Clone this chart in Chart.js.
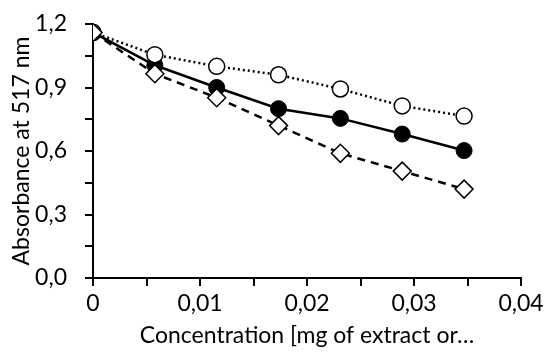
<!DOCTYPE html>
<html>
<head>
<meta charset="utf-8">
<script src="https://cdn.jsdelivr.net/npm/chart.js@4/dist/chart.umd.min.js"></script>
<style>
html,body{margin:0;padding:0;background:#fff;}
#wrap{width:544px;height:354px;position:relative;}
</style>
</head>
<body>
<div id="wrap"><canvas id="c" width="544" height="354"></canvas></div>
<script>
const concentrations = [0, 0.00578, 0.01156, 0.01734, 0.02312, 0.0289, 0.03468];
const openCircles   = [1.16, 1.055, 1.00, 0.96, 0.893, 0.813, 0.765];
const filledCircles = [1.16, 1.005, 0.90, 0.80, 0.754, 0.680, 0.602];
const diamonds      = [1.16, 0.965, 0.852, 0.72, 0.589, 0.505, 0.420];
const xTitle = 'Concentration [mg of extract or…';
const yTitle = 'Absorbance at 517 nm';

const pts = arr => arr.map((v, i) => ({x: concentrations[i], y: v}));
const FONT = 'Lato';

const isMult = (v, s) => Math.abs(v / s - Math.round(v / s)) < 1e-6;

new Chart(document.getElementById('c'), {
  type: 'scatter',
  data: {
    datasets: [
      {
        label: 'open', data: pts(openCircles), showLine: true,
        borderColor: '#000', borderWidth: 2.5, borderDash: [2, 3],
        pointStyle: 'circle', pointRadius: 8, pointBackgroundColor: '#fff',
        pointBorderColor: '#000', pointBorderWidth: 1.5, order: 2
      },
      {
        label: 'filled', data: pts(filledCircles), showLine: true,
        borderColor: '#000', borderWidth: 2.5,
        pointStyle: 'circle', pointRadius: 8, pointBackgroundColor: '#000',
        pointBorderColor: '#000', pointBorderWidth: 1, order: 3
      },
      {
        label: 'diamond', data: pts(diamonds), showLine: true,
        borderColor: '#000', borderWidth: 2.5, borderDash: [8, 6],
        pointStyle: 'rectRot', pointRadius: 9, pointBackgroundColor: '#fff',
        pointBorderColor: '#000', pointBorderWidth: 1.5, order: 1
      }
    ]
  },
  options: {
    responsive: false,
    animation: false,
    layout: {padding: {left: 0, right: 23, top: 24, bottom: 0}},
    plugins: {legend: {display: false}, tooltip: {enabled: false}},
    scales: {
      x: {
        type: 'linear', min: 0, max: 0.04,
        afterFit: s => { s.height = 76; s.paddingRight = 0; s.paddingLeft = 0; },
        ticks: {
          stepSize: 0.005, color: '#000', padding: 4,
          font: {family: FONT, size: 23},
          maxRotation: 0, autoSkip: false,
          callback: v => isMult(v, 0.01) ? (Math.abs(v) < 1e-9 ? '0' : v.toFixed(2).replace('.', ',')) : ''
        },
        grid: {drawOnChartArea: false, color: '#000', lineWidth: 2, tickLength: 8},
        border: {color: '#000', width: 2},
        title: {display: true, text: xTitle, color: '#000', font: {family: FONT, size: 23}, padding: {top: 0, bottom: 5}}
      },
      y: {
        type: 'linear', min: 0, max: 1.2,
        afterFit: s => { s.width = 93; s.paddingTop = 0; s.paddingBottom = 0; },
        ticks: {
          stepSize: 0.15, color: '#000', padding: 18,
          font: {family: FONT, size: 23},
          callback: v => isMult(v, 0.3) ? v.toFixed(1).replace('.', ',') : ''
        },
        grid: {drawOnChartArea: false, color: '#000', lineWidth: 2, tickLength: 8},
        border: {color: '#000', width: 2},
        title: {display: true, text: yTitle, color: '#000', font: {family: FONT, size: 23}, padding: {top: 8, bottom: 0}}
      }
    }
  }
});
</script>
</body>
</html>
